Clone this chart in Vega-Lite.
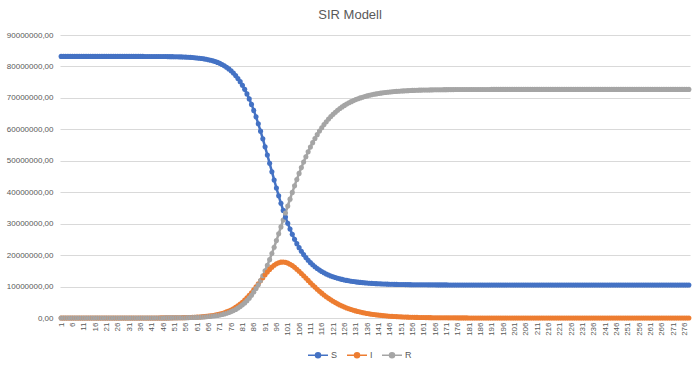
{
"$schema": "https://vega.github.io/schema/vega-lite/v6.json",
"width": 630, "height": 283,
"autosize": {"type": "none"},
"padding": {"left": 60, "top": 35, "right": 10, "bottom": 52},
"background": "white",
"title": {"text": "SIR Modell", "fontSize": 13, "font": "Liberation Sans", "fontWeight": "normal", "color": "#595959", "anchor": "middle", "frame": "bounds", "offset": 9},
"data": {"values": [
{"d":1,"S":83199949,"I":29,"R":22},{"d":2,"S":83199940,"I":34,"R":26},{"d":3,"S":83199930,"I":40,"R":30},{"d":4,"S":83199917,"I":47,"R":36},{"d":5,"S":83199905,"I":54,"R":41},
{"d":6,"S":83199889,"I":63,"R":48},{"d":7,"S":83199870,"I":74,"R":56},{"d":8,"S":83199849,"I":86,"R":65},{"d":9,"S":83199824,"I":100,"R":76},{"d":10,"S":83199794,"I":117,"R":89},
{"d":11,"S":83199761,"I":136,"R":103},{"d":12,"S":83199720,"I":159,"R":121},{"d":13,"S":83199675,"I":185,"R":140},{"d":14,"S":83199622,"I":215,"R":163},{"d":15,"S":83199559,"I":251,"R":190},
{"d":16,"S":83199487,"I":292,"R":221},{"d":17,"S":83199401,"I":341,"R":258},{"d":18,"S":83199302,"I":397,"R":301},{"d":19,"S":83199188,"I":462,"R":350},{"d":20,"S":83199052,"I":539,"R":409},
{"d":21,"S":83198896,"I":628,"R":476},{"d":22,"S":83198715,"I":731,"R":554},{"d":23,"S":83198502,"I":852,"R":646},{"d":24,"S":83198256,"I":992,"R":752},{"d":25,"S":83197968,"I":1156,"R":876},
{"d":26,"S":83197632,"I":1347,"R":1021},{"d":27,"S":83197242,"I":1569,"R":1189},{"d":28,"S":83196786,"I":1828,"R":1386},{"d":29,"S":83196255,"I":2130,"R":1615},{"d":30,"S":83195638,"I":2481,"R":1881},
{"d":31,"S":83194919,"I":2890,"R":2191},{"d":32,"S":83194081,"I":3367,"R":2552},{"d":33,"S":83193103,"I":3923,"R":2974},{"d":34,"S":83191966,"I":4570,"R":3464},{"d":35,"S":83190640,"I":5324,"R":4036},
{"d":36,"S":83189095,"I":6203,"R":4702},{"d":37,"S":83187297,"I":7226,"R":5477},{"d":38,"S":83185199,"I":8419,"R":6382},{"d":39,"S":83182758,"I":9808,"R":7434},{"d":40,"S":83179913,"I":11426,"R":8661},
{"d":41,"S":83176599,"I":13311,"R":10090},{"d":42,"S":83172739,"I":15507,"R":11754},{"d":43,"S":83168240,"I":18066,"R":13694},{"d":44,"S":83162999,"I":21047,"R":15954},{"d":45,"S":83156894,"I":24520,"R":18586},
{"d":46,"S":83149781,"I":28566,"R":21653},{"d":47,"S":83141496,"I":33279,"R":25225},{"d":48,"S":83131842,"I":38770,"R":29388},{"d":49,"S":83120596,"I":45167,"R":34237},{"d":50,"S":83107496,"I":52619,"R":39885},
{"d":51,"S":83092233,"I":61301,"R":46466},{"d":52,"S":83074451,"I":71416,"R":54133},{"d":53,"S":83054000,"I":83200,"R":63200},{"d":54,"S":83029000,"I":96900,"R":73600},{"d":55,"S":83001000,"I":112800,"R":85700},
{"d":56,"S":82969000,"I":131300,"R":99800},{"d":57,"S":82930000,"I":152900,"R":116500},{"d":58,"S":82886000,"I":178000,"R":135600},{"d":59,"S":82835000,"I":207200,"R":158100},{"d":60,"S":82775000,"I":241100,"R":183900},
{"d":61,"S":82706000,"I":280500,"R":213800},{"d":62,"S":82625000,"I":326300,"R":248800},{"d":63,"S":82531000,"I":379500,"R":289500},{"d":64,"S":82421000,"I":441300,"R":337000},{"d":65,"S":82295000,"I":512900,"R":391900},
{"d":66,"S":82148000,"I":595900,"R":455900},{"d":67,"S":81977000,"I":692000,"R":530800},{"d":68,"S":81779000,"I":803200,"R":617300},{"d":69,"S":81550000,"I":931800,"R":718000},{"d":70,"S":81286000,"I":1080200,"R":834500},
{"d":71,"S":80979000,"I":1251200,"R":969300},{"d":72,"S":80626000,"I":1448000,"R":1125700},{"d":73,"S":80219000,"I":1673900,"R":1307100},{"d":74,"S":79751000,"I":1932700,"R":1515900},{"d":75,"S":79214000,"I":2228400,"R":1757200},
{"d":76,"S":78599000,"I":2565100,"R":2035900},{"d":77,"S":77896000,"I":2947200,"R":2356200},{"d":78,"S":77096000,"I":3379000,"R":2724800},{"d":79,"S":76188000,"I":3864600,"R":3147500},{"d":80,"S":75161000,"I":4407900,"R":3630800},
{"d":81,"S":74006000,"I":5011600,"R":4181600},{"d":82,"S":72713000,"I":5678000,"R":4808100},{"d":83,"S":71274000,"I":6407300,"R":5517800},{"d":84,"S":69683000,"I":7198200,"R":6319000},{"d":85,"S":67934000,"I":8046700,"R":7218400},
{"d":86,"S":66029000,"I":8946200,"R":8224300},{"d":87,"S":63970000,"I":9887000,"R":9342500},{"d":88,"S":61765000,"I":10855600,"R":10578000},{"d":89,"S":59428000,"I":11835700,"R":11935000},{"d":90,"S":56976000,"I":12807900,"R":13414300},
{"d":91,"S":54433000,"I":13750500,"R":15015100},{"d":92,"S":51824000,"I":14640500,"R":16734000},{"d":93,"S":49179000,"I":15455100,"R":18564400},{"d":94,"S":46530000,"I":16172500,"R":20496300},{"d":95,"S":43907000,"I":16773800,"R":22518100},
{"d":96,"S":41340000,"I":17244200,"R":24614700},{"d":97,"S":38855000,"I":17573500,"R":26770400},{"d":98,"S":36475000,"I":17756800,"R":28966900},{"d":99,"S":34218000,"I":17794800,"R":31186700},{"d":100,"S":32095000,"I":17692900,"R":33410600},
{"d":101,"S":30116000,"I":17460600,"R":35622100},{"d":102,"S":28283000,"I":17110800,"R":37804400},{"d":103,"S":26597000,"I":16658800,"R":39943500},{"d":104,"S":25052000,"I":16120700,"R":42026000},{"d":105,"S":23645000,"I":15513200,"R":44041100},
{"d":106,"S":22366000,"I":14852700,"R":45980500},{"d":107,"S":21208000,"I":14154000,"R":47836700},{"d":108,"S":20162000,"I":13431000,"R":49606300},{"d":109,"S":19218000,"I":12696100,"R":51285300},{"d":110,"S":18367000,"I":11959500,"R":52871900},
{"d":111,"S":17602000,"I":11230200,"R":54367000},{"d":112,"S":16913000,"I":10515400,"R":55770600},{"d":113,"S":16293000,"I":9820800,"R":57085200},{"d":114,"S":15736000,"I":9151000,"R":58313200},{"d":115,"S":15234000,"I":8509000,"R":59457200},
{"d":116,"S":14782000,"I":7897200,"R":60520500},{"d":117,"S":14375000,"I":7316900,"R":61507300},{"d":118,"S":14008000,"I":6769000,"R":62421600},{"d":119,"S":13678000,"I":6253400,"R":63267800},{"d":120,"S":13380000,"I":5769900,"R":64049900},
{"d":121,"S":13111000,"I":5317700,"R":64771200},{"d":122,"S":12869000,"I":4896000,"R":65436000},{"d":123,"S":12649000,"I":4503600,"R":66048300},{"d":124,"S":12450000,"I":4139200,"R":66611600},{"d":125,"S":12270000,"I":3801500,"R":67129100},
{"d":126,"S":12108000,"I":3488900,"R":67604200},{"d":127,"S":11961000,"I":3200000,"R":68040100},{"d":128,"S":11828000,"I":2933400,"R":68440300},{"d":129,"S":11707000,"I":2687700,"R":68807200},{"d":130,"S":11597000,"I":2461400,"R":69143400},
{"d":131,"S":11497000,"I":2253200,"R":69451200},{"d":132,"S":11408000,"I":2061900,"R":69733200},{"d":133,"S":11325000,"I":1886100,"R":69991200},{"d":134,"S":11251000,"I":1724800,"R":70226600},{"d":135,"S":11184000,"I":1576800,"R":70442100},
{"d":136,"S":11122000,"I":1441200,"R":70639300},{"d":137,"S":11066000,"I":1316900,"R":70819800},{"d":138,"S":11016000,"I":1203100,"R":70984600},{"d":139,"S":10969000,"I":1098900,"R":71135200},{"d":140,"S":10927000,"I":1003600,"R":71272400},
{"d":141,"S":10889000,"I":916300,"R":71398100},{"d":142,"S":10854000,"I":836600,"R":71512900},{"d":143,"S":10823000,"I":763700,"R":71617700},{"d":144,"S":10794000,"I":696500,"R":71709500},{"d":145,"S":10768000,"I":635200,"R":71796800},
{"d":146,"S":10744000,"I":579300,"R":71876700},{"d":147,"S":10722000,"I":528300,"R":71949700},{"d":148,"S":10702000,"I":481800,"R":72016200},{"d":149,"S":10684000,"I":439400,"R":72076600},{"d":150,"S":10667000,"I":400700,"R":72132300},
{"d":151,"S":10652000,"I":365400,"R":72182600},{"d":152,"S":10638000,"I":333300,"R":72228700},{"d":153,"S":10626000,"I":303900,"R":72270100},{"d":154,"S":10614000,"I":277200,"R":72308800},{"d":155,"S":10604000,"I":252800,"R":72343200},
{"d":156,"S":10594000,"I":230500,"R":72375500},{"d":157,"S":10586000,"I":210200,"R":72403800},{"d":158,"S":10578000,"I":191700,"R":72430300},{"d":159,"S":10570000,"I":174900,"R":72455100},{"d":160,"S":10564000,"I":159500,"R":72476500},
{"d":161,"S":10558000,"I":145400,"R":72496600},{"d":162,"S":10552000,"I":132600,"R":72515400},{"d":163,"S":10547000,"I":121000,"R":72532000},{"d":164,"S":10543000,"I":110300,"R":72546700},{"d":165,"S":10539000,"I":100600,"R":72560400},
{"d":166,"S":10535000,"I":91800,"R":72573200},{"d":167,"S":10531000,"I":83700,"R":72585300},{"d":168,"S":10528000,"I":76300,"R":72595700},{"d":169,"S":10525000,"I":69600,"R":72605400},{"d":170,"S":10523000,"I":63500,"R":72613500},
{"d":171,"S":10520000,"I":57900,"R":72622100},{"d":172,"S":10518000,"I":52800,"R":72629200},{"d":173,"S":10516000,"I":48100,"R":72635900},{"d":174,"S":10514000,"I":43900,"R":72642100},{"d":175,"S":10513000,"I":40000,"R":72647000},
{"d":176,"S":10511000,"I":36500,"R":72652500},{"d":177,"S":10510000,"I":33300,"R":72656700},{"d":178,"S":10508000,"I":30400,"R":72661600},{"d":179,"S":10507000,"I":27700,"R":72665300},{"d":180,"S":10506000,"I":25300,"R":72668700},
{"d":181,"S":10505000,"I":23100,"R":72671900},{"d":182,"S":10504000,"I":21000,"R":72675000},{"d":183,"S":10503000,"I":19200,"R":72677800},{"d":184,"S":10503000,"I":17500,"R":72679500},{"d":185,"S":10502000,"I":16000,"R":72682000},
{"d":186,"S":10502000,"I":14600,"R":72683400},{"d":187,"S":10501000,"I":13300,"R":72685700},{"d":188,"S":10500000,"I":12100,"R":72687900},{"d":189,"S":10500000,"I":11000,"R":72689000},{"d":190,"S":10500000,"I":10100,"R":72689900},
{"d":191,"S":10499000,"I":9200,"R":72691800},{"d":192,"S":10499000,"I":8400,"R":72692600},{"d":193,"S":10499000,"I":7600,"R":72693400},{"d":194,"S":10498000,"I":7000,"R":72695000},{"d":195,"S":10498000,"I":6400,"R":72695600},
{"d":196,"S":10498000,"I":5800,"R":72696200},{"d":197,"S":10498000,"I":5300,"R":72696700},{"d":198,"S":10497000,"I":4800,"R":72698200},{"d":199,"S":10497000,"I":4400,"R":72698600},{"d":200,"S":10497000,"I":4000,"R":72699000},
{"d":201,"S":10497000,"I":3660,"R":72699340},{"d":202,"S":10497000,"I":3330,"R":72699670},{"d":203,"S":10497000,"I":3040,"R":72699960},{"d":204,"S":10497000,"I":2770,"R":72700230},{"d":205,"S":10496000,"I":2530,"R":72701470},
{"d":206,"S":10496000,"I":2310,"R":72701690},{"d":207,"S":10496000,"I":2100,"R":72701900},{"d":208,"S":10496000,"I":1920,"R":72702080},{"d":209,"S":10496000,"I":1750,"R":72702250},{"d":210,"S":10496000,"I":1600,"R":72702400},
{"d":211,"S":10496000,"I":1460,"R":72702540},{"d":212,"S":10496000,"I":1330,"R":72702670},{"d":213,"S":10496000,"I":1210,"R":72702790},{"d":214,"S":10496000,"I":1100,"R":72702900},{"d":215,"S":10496000,"I":1010,"R":72702990},
{"d":216,"S":10496000,"I":920,"R":72703080},{"d":217,"S":10496000,"I":840,"R":72703160},{"d":218,"S":10496000,"I":760,"R":72703240},{"d":219,"S":10496000,"I":700,"R":72703300},{"d":220,"S":10496000,"I":640,"R":72703360},
{"d":221,"S":10496000,"I":580,"R":72703420},{"d":222,"S":10496000,"I":530,"R":72703470},{"d":223,"S":10496000,"I":480,"R":72703520},{"d":224,"S":10496000,"I":440,"R":72703560},{"d":225,"S":10496000,"I":400,"R":72703600},
{"d":226,"S":10496000,"I":370,"R":72703630},{"d":227,"S":10496000,"I":330,"R":72703670},{"d":228,"S":10496000,"I":300,"R":72703700},{"d":229,"S":10496000,"I":280,"R":72703720},{"d":230,"S":10496000,"I":250,"R":72703750},
{"d":231,"S":10496000,"I":228,"R":72703772},{"d":232,"S":10496000,"I":208,"R":72703792},{"d":233,"S":10496000,"I":190,"R":72703810},{"d":234,"S":10496000,"I":173,"R":72703827},{"d":235,"S":10496000,"I":158,"R":72703842},
{"d":236,"S":10496000,"I":144,"R":72703856},{"d":237,"S":10496000,"I":131,"R":72703869},{"d":238,"S":10496000,"I":120,"R":72703880},{"d":239,"S":10496000,"I":109,"R":72703891},{"d":240,"S":10496000,"I":100,"R":72703900},
{"d":241,"S":10496000,"I":91,"R":72703909},{"d":242,"S":10496000,"I":83,"R":72703917},{"d":243,"S":10496000,"I":76,"R":72703924},{"d":244,"S":10496000,"I":69,"R":72703931},{"d":245,"S":10496000,"I":63,"R":72703937},
{"d":246,"S":10496000,"I":57,"R":72703943},{"d":247,"S":10496000,"I":52,"R":72703948},{"d":248,"S":10496000,"I":48,"R":72703952},{"d":249,"S":10496000,"I":44,"R":72703956},{"d":250,"S":10496000,"I":40,"R":72703960},
{"d":251,"S":10496000,"I":36,"R":72703964},{"d":252,"S":10496000,"I":33,"R":72703967},{"d":253,"S":10496000,"I":30,"R":72703970},{"d":254,"S":10496000,"I":28,"R":72703972},{"d":255,"S":10496000,"I":25,"R":72703975},
{"d":256,"S":10496000,"I":23,"R":72703977},{"d":257,"S":10496000,"I":21,"R":72703979},{"d":258,"S":10496000,"I":19,"R":72703981},{"d":259,"S":10496000,"I":17,"R":72703983},{"d":260,"S":10496000,"I":16,"R":72703984},
{"d":261,"S":10496000,"I":15,"R":72703985},{"d":262,"S":10496000,"I":13,"R":72703987},{"d":263,"S":10496000,"I":12,"R":72703988},{"d":264,"S":10496000,"I":11,"R":72703989},{"d":265,"S":10496000,"I":10,"R":72703990},
{"d":266,"S":10496000,"I":9,"R":72703991},{"d":267,"S":10496000,"I":8,"R":72703992},{"d":268,"S":10496000,"I":8,"R":72703992},{"d":269,"S":10496000,"I":7,"R":72703993},{"d":270,"S":10496000,"I":6,"R":72703994},
{"d":271,"S":10496000,"I":6,"R":72703994},{"d":272,"S":10496000,"I":5,"R":72703995},{"d":273,"S":10496000,"I":5,"R":72703995},{"d":274,"S":10496000,"I":4,"R":72703996},{"d":275,"S":10496000,"I":4,"R":72703996},
{"d":276,"S":10496000,"I":4,"R":72703996},{"d":277,"S":10496000,"I":3,"R":72703997},{"d":278,"S":10496000,"I":3,"R":72703997}
]},
"transform": [{"fold": ["S", "I", "R"], "as": ["Serie", "Wert"]}],
"encoding": {
  "x": {"field": "d", "type": "quantitative", "scale": {"domain": [0.5, 278.5], "nice": false, "zero": false},
        "axis": {"values": [1,6,11,16,21,26,31,36,41,46,51,56,61,66,71,76,81,86,91,96,101,106,111,116,121,126,131,136,141,146,151,156,161,166,171,176,181,186,191,196,201,206,211,216,221,226,231,236,241,246,251,256,261,266,271,276],
                 "labelAngle": -90, "labelFont": "Liberation Sans", "labelFontSize": 8, "labelColor": "#595959", "ticks": false, "grid": false,
                 "domainColor": "#d9d9d9", "labelPadding": 4, "title": null, "labelOverlap": false, "labelFlush": false}},
  "y": {"field": "Wert", "type": "quantitative", "scale": {"domain": [0, 90000000], "nice": false},
        "axis": {"values": [0,10000000,20000000,30000000,40000000,50000000,60000000,70000000,80000000,90000000],
                 "labelExpr": "format(datum.value, 'd') + ',00'", "grid": true, "gridColor": "#d9d9d9", "domain": false, "ticks": false,
                 "labelPadding": 7, "labelFont": "Liberation Sans", "labelFontSize": 8, "labelColor": "#595959", "title": null}},
  "color": {"field": "Serie", "type": "nominal", "sort": ["S", "I", "R"],
            "scale": {"domain": ["S", "I", "R"], "range": ["#4472C4", "#ED7D31", "#A5A5A5"]},
            "legend": {"orient": "none", "legendX": 247, "legendY": 309, "direction": "horizontal", "title": null, "labelFont": "Liberation Sans", "labelFontSize": 9, "labelColor": "#595959",
                       "symbolType": "M-1,0L1,0M-0.25,0A0.25,0.25,0,1,1,0.25,0A0.25,0.25,0,1,1,-0.25,0", "symbolSize": 400, "symbolStrokeWidth": 1.5, "columnPadding": 6, "labelOffset": 2}}
},
"layer": [
  {"mark": {"type": "line", "strokeWidth": 2.5}},
  {"mark": {"type": "point", "filled": true, "size": 26, "opacity": 1}}
],
"config": {"view": {"stroke": null}}
}
